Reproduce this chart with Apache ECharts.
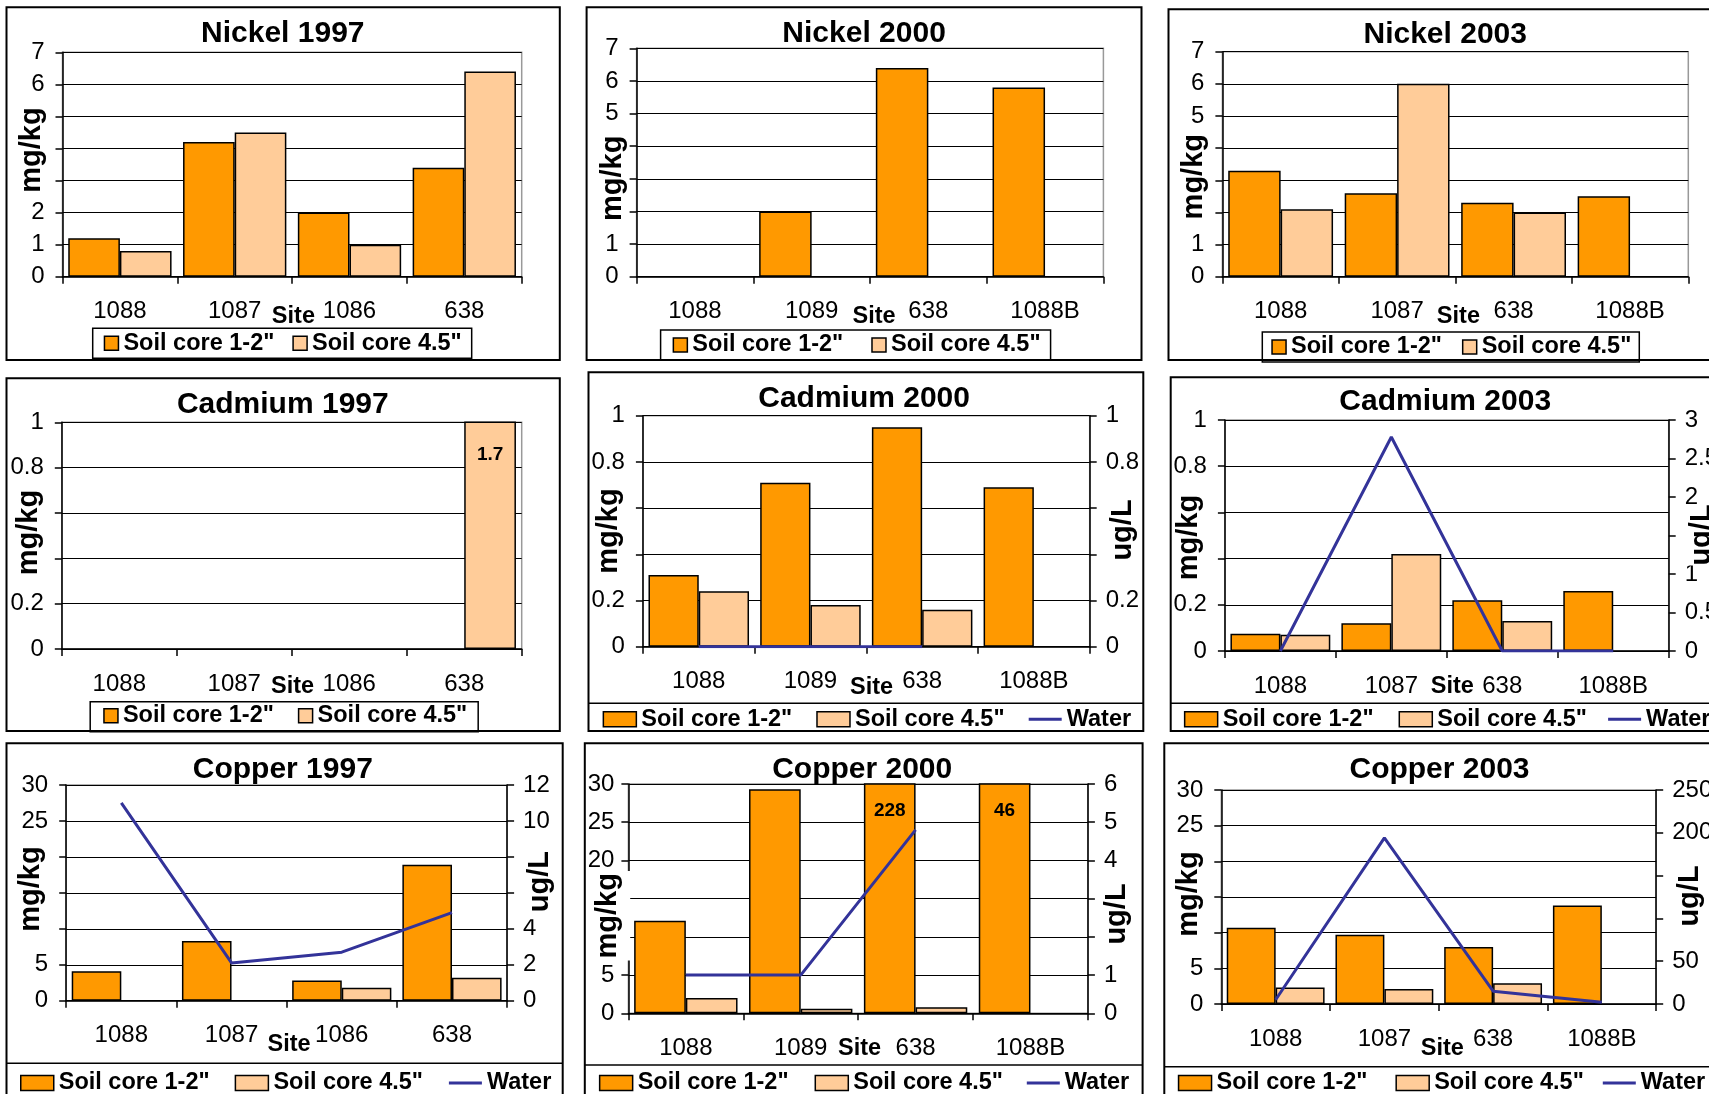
<!DOCTYPE html>
<html>
<head>
<meta charset="utf-8">
<script src="https://cdn.jsdelivr.net/npm/echarts@6/dist/echarts.min.js"></script>
<style>
html,body{margin:0;padding:0;background:#fff;overflow:hidden}
#c{width:1709px;height:1094px}
</style>
</head>
<body>
<div id="c"></div>
<script>
// ---------- categories ----------
const sites1997 = ['1088', '1087', '1086', '638'];
const sites2000 = ['1088', '1089', '638', '1088B'];
const sites2003 = ['1088', '1087', '638', '1088B'];
const seriesNames = ['Soil core 1-2"', 'Soil core 4.5"', 'Water'];

// ---------- Nickel (mg/kg) ----------
const ni1997Core12 = [1.2, 4.2, 2.0, 3.4];
const ni1997Core45 = [0.8, 4.5, 1.0, 6.4];
const ni2000Core12 = [null, 2.0, 6.4, 5.8];
const ni2000Core45 = [null, null, null, null];
const ni2003Core12 = [3.3, 2.6, 2.3, 2.5];
const ni2003Core45 = [2.1, 6.0, 2.0, null];

// ---------- Cadmium (mg/kg, water ug/L) ----------
const cd1997Core12 = [null, null, null, null];
const cd1997Core45 = [null, null, null, 1.7];
const cd2000Core12 = [0.31, 0.71, 0.95, 0.69];
const cd2000Core45 = [0.24, 0.18, 0.16, null];
const cd2000Water  = [0, 0, 0, null];
const cd2003Core12 = [0.075, 0.12, 0.22, 0.26];
const cd2003Core45 = [0.07, 0.42, 0.13, null];
const cd2003Water  = [0, 2.78, 0, 0];

// ---------- Copper (mg/kg, water ug/L) ----------
const cu1997Core12 = [4.1, 8.3, 2.8, 18.9];
const cu1997Core45 = [null, null, 1.8, 3.2];
const cu1997Water  = [11, 2.1, 2.7, 4.9];
const cu2000Core12 = [12.1, 29.3, 228, 46];
const cu2000Core45 = [2.0, 0.6, 0.8, null];
const cu2000Water  = [1.0, 1.0, 4.8, null];
const cu2003Core12 = [10.7, 9.7, 8.0, 13.8];
const cu2003Core45 = [2.3, 2.1, 2.9, null];
const cu2003Water  = [5, 194, 15, 2];

// ---------- axis scales [min, max, interval] ----------
const nickelAxis = [0, 7, 1];
const cadmiumAxis = [0, 1, 0.2];
const copperAxis = [0, 30, 5];
const cd2000WaterAxis = [0, 1, 0.2];
const cd2003WaterAxis = [0, 3, 0.5];
const cu1997WaterAxis = [0, 12, 2];
const cu2000WaterAxis = [0, 6, 1];
const cu2003WaterAxis = [0, 250, 50];

// ---------- styling ----------
const FONT = '"Liberation Sans", Arial, Helvetica, sans-serif';
const ORANGE = '#FF9900', PEACH = '#FFCC99', NAVY = '#333399';
const LINE_ICON = 'path://M0,0L34,0L34,3L0,3Z';
const TICK_FS = 24, TITLE_FS = 30, NAME_FS = 29, LEGEND_FS = 23.5;

// ---------- panel layout ----------
// yName / y2Name: [centerX, centerY, padAlong, padScreenLeft, padScreenRight]
const panels = [
  { title: 'Nickel 1997', cats: sites1997, core12: ni1997Core12, core45: ni1997Core45, left: nickelAxis,
    frame: [6.5, 7.3, 553.3, 352.7], plot: [62.5, 52.3, 521.7, 276.7], titleAt: [282.8, 33.8],
    yName: [32.7, 150, 7, 3, 2], siteAt: [293.4, 316.7],
    legend: { box: true, left: 92.7, top: 328.3, padding: [3, 10, 3, 11], gap: 18 } },
  { title: 'Nickel 2000', cats: sites2000, core12: ni2000Core12, core45: ni2000Core45, left: nickelAxis,
    frame: [586.6, 7.3, 554.9, 352.7], plot: [636.6, 48.3, 1103.4, 276.7], titleAt: [864.1, 33.3],
    yName: [614.4, 178.3, 7, 3, 0], siteAt: [874, 316.7],
    legend: { box: true, left: 660.6, top: 330, padding: [3, 10, 3, 12], gap: 28 } },
  { title: 'Nickel 2003', cats: sites2003, core12: ni2003Core12, core45: ni2003Core45, left: nickelAxis,
    frame: [1168.5, 9.3, 600, 350.7], plot: [1222.4, 51.7, 1688.3, 276.7], titleAt: [1445.2, 35],
    yName: [1194.6, 176.7, 9, 3, 2], siteAt: [1458.4, 316.7],
    legend: { box: true, left: 1262.3, top: 332, padding: [3, 8, 3, 9], gap: 20 } },
  { title: 'Cadmium 1997', cats: sites1997, core12: cd1997Core12, core45: cd1997Core45, left: cadmiumAxis,
    frame: [6.5, 378.3, 553.3, 352.7], plot: [61.8, 422.3, 521.7, 649], titleAt: [282.8, 404.3],
    yName: [34.5, 532.5, 2, 13, 2], siteAt: [292.6, 686.7], labelDist: 24,
    legend: { box: true, left: 90.2, top: 701.7, padding: [2, 11, 4, 13], gap: 24 } },
  { title: 'Cadmium 2000', cats: sites2000, core12: cd2000Core12, core45: cd2000Core45, left: cadmiumAxis,
    water: cd2000Water, right: cd2000WaterAxis,
    frame: [588.5, 372.3, 554.8, 358.7], plot: [642.9, 415.7, 1089.7, 646.7], titleAt: [864.1, 398.3],
    yName: [612.5, 531, 2, 10, 2], y2Name: [1123, 530, 8, 4, 3], siteAt: [871.5, 687.7], sep: 703.3,
    legend: { left: 602.6, top: 707.2, gap: 24, waterLeft: 1028.7 } },
  { title: 'Cadmium 2003', cats: sites2003, core12: cd2003Core12, core45: cd2003Core45, left: cadmiumAxis,
    water: cd2003Water, right: cd2003WaterAxis,
    frame: [1170.7, 377.3, 600, 353.7], plot: [1224.9, 420, 1668.7, 651], titleAt: [1445.2, 401.7],
    yName: [1191, 537.5, 2, 7, 2], y2Name: [1702.6, 535, 0, 6, 4], siteAt: [1452.3, 686.7], sep: 703.3,
    legend: { left: 1183.9, top: 707.2, gap: 25, waterLeft: 1608.1 } },
  { title: 'Copper 1997', cats: sites1997, core12: cu1997Core12, core45: cu1997Core45, left: copperAxis,
    water: cu1997Water, right: cu1997WaterAxis,
    frame: [6.5, 743.3, 556.2, 400], plot: [66.2, 785, 507.1, 1000.7], titleAt: [282.8, 770],
    yName: [30.9, 889, 12, 2, 3], y2Name: [541.6, 881.7, 7, 6, 2], siteAt: [289, 1045], sep: 1063.3,
    legend: { left: 20, top: 1071, gap: 25, waterLeft: 448.9 } },
  { title: 'Copper 2000', cats: sites2000, core12: cu2000Core12, core45: cu2000Core45, left: copperAxis,
    water: cu2000Water, right: cu2000WaterAxis, leftMargin: 14,
    frame: [584.8, 743.3, 557.8, 400], plot: [628.4, 784, 1087.9, 1013.3], titleAt: [862.2, 769.3],
    yName: [610.7, 915.8, 2, 10, 5], y2Name: [1117.5, 914, 6, 4, 2], siteAt: [859.6, 1048.3], sep: 1065, labelDist: 18,
    legend: { left: 598.9, top: 1071, gap: 26, waterLeft: 1026.8 } },
  { title: 'Copper 2003', cats: sites2003, core12: cu2003Core12, core45: cu2003Core45, left: copperAxis,
    water: cu2003Water, right: cu2003WaterAxis,
    frame: [1164.3, 743.3, 600, 400], plot: [1221.3, 790, 1656.2, 1004], titleAt: [1439.5, 770],
    yName: [1189.2, 894, 12, 2, 1], y2Name: [1697.2, 896, 6, 17, 2], siteAt: [1442.3, 1048.3], sep: 1066.7,
    legend: { left: 1177.8, top: 1071, gap: 28, waterLeft: 1602.8 } }
];

function valueAxis(gi, scale, position, grid, margin) {
  return {
    type: 'value', gridIndex: gi, position: position,
    min: scale[0], max: scale[1], interval: scale[2],
    axisLine: { show: true, onZero: false, lineStyle: { color: '#000', width: 1.5 } },
    axisTick: { show: true, inside: false, length: 7, lineStyle: { color: '#000', width: 1.5 } },
    axisLabel: { show: true, margin: margin, fontSize: TICK_FS, color: '#000', fontFamily: FONT, hideOverlap: false },
    splitLine: { show: grid, lineStyle: { color: '#000', width: 1 } },
    minorTick: { show: false }, minorSplitLine: { show: false }
  };
}

function barSeries(name, values, color, gi, yi, max, dist) {
  return {
    type: 'bar', name: name, xAxisIndex: gi, yAxisIndex: yi,
    barGap: '0%', barCategoryGap: '10%', clip: true,
    emphasis: { disabled: true },
    itemStyle: { color: color, borderColor: '#000', borderWidth: 1.5 },
    data: values.map(v => (v != null && v > max)
      ? { value: v, label: { show: true, position: 'insideTop', distance: dist, fontSize: 19,
          fontWeight: 'bold', color: '#000', fontFamily: FONT } }
      : v)
  };
}

// rotated axis title with a white box that hides the tick labels behind it.
// The padded box is centred on the anchor, so shift the anchor to keep the text at spec[0].
function axisTitle(text, spec) {
  return {
    type: 'text', x: spec[0] + (spec[4] - spec[3]) / 2, y: spec[1], rotation: Math.PI / 2, z: 100, silent: true,
    style: { text: text, fontSize: NAME_FS, fontWeight: 'bold', fontFamily: FONT, fill: '#000',
      align: 'center', verticalAlign: 'middle', backgroundColor: '#fff',
      padding: [spec[3], spec[2], spec[4], spec[2]] }
  };
}

function legendBase(L, data, left) {
  return {
    data: data, orient: 'horizontal', left: left, top: L.top,
    padding: L.padding || 0, itemGap: L.gap,
    itemWidth: L.box ? 14 : 33, itemHeight: L.box ? 14 : 15, symbolKeepAspect: true,
    borderColor: L.box ? '#000' : 'transparent', borderWidth: L.box ? 1.5 : 0, borderRadius: 0,
    backgroundColor: 'transparent', selectedMode: false,
    itemStyle: { borderColor: '#000', borderWidth: 1.5 },
    textStyle: { fontSize: LEGEND_FS, fontWeight: 'bold', color: '#000', fontFamily: FONT }
  };
}

const option = {
  animation: false, backgroundColor: '#fff',
  title: [], legend: [], grid: [], xAxis: [], yAxis: [], series: [], graphic: []
};

panels.forEach((p, i) => {
  const [l, t, r, b] = p.plot;
  option.grid.push({ left: l, top: t, width: r - l, height: b - t, show: true,
    backgroundColor: 'transparent', borderColor: '#999999', borderWidth: 1.5,
    containLabel: false, outerBoundsMode: 'none' });
  option.xAxis.push({
    type: 'category', gridIndex: i, data: p.cats, boundaryGap: true,
    axisLine: { show: true, onZero: false, lineStyle: { color: '#000', width: 1.5 } },
    axisTick: { show: true, alignWithLabel: false, interval: 0, length: 7, lineStyle: { color: '#000', width: 1.5 } },
    axisLabel: { show: true, interval: 0, margin: 23, fontSize: TICK_FS, color: '#000', fontFamily: FONT },
    splitLine: { show: false }
  });
  const yL = option.yAxis.length;
  option.yAxis.push(valueAxis(i, p.left, 'left', true, p.leftMargin || 18));
  let yR = null;
  if (p.right) {
    yR = option.yAxis.length;
    option.yAxis.push(valueAxis(i, p.right, 'right', false, 16));
  }
  option.series.push(barSeries(seriesNames[0], p.core12, ORANGE, i, yL, p.left[1], p.labelDist || 20));
  option.series.push(barSeries(seriesNames[1], p.core45, PEACH, i, yL, p.left[1], p.labelDist || 20));
  if (p.water) {
    option.series.push({ type: 'line', name: seriesNames[2], xAxisIndex: i, yAxisIndex: yR,
      data: p.water, symbol: 'none', showSymbol: false, connectNulls: false, z: 5,
      emphasis: { disabled: true },
      lineStyle: { color: NAVY, width: 3 }, itemStyle: { color: NAVY } });
  }

  // title
  option.title.push({ text: p.title, left: p.titleAt[0], top: p.titleAt[1] - TITLE_FS / 2,
    textAlign: 'center', textVerticalAlign: 'top', padding: 0, itemGap: 0,
    textStyle: { fontSize: TITLE_FS, fontWeight: 'bold', color: '#000', fontFamily: FONT } });

  // legends
  const L = p.legend;
  option.legend.push(legendBase(L, [{ name: seriesNames[0], icon: 'rect' }, { name: seriesNames[1], icon: 'rect' }], L.left));
  if (p.water) {
    option.legend.push(legendBase(L, [{ name: seriesNames[2], icon: LINE_ICON,
      itemStyle: { color: NAVY, borderWidth: 0 } }], L.waterLeft));
  }

  // axis titles
  option.graphic.push(axisTitle('mg/kg', p.yName));
  if (p.y2Name) option.graphic.push(axisTitle('ug/L', p.y2Name));
  option.graphic.push({ type: 'text', x: p.siteAt[0], y: p.siteAt[1], z: 100, silent: true,
    style: { text: 'Site', fontSize: 23.5, fontWeight: 'bold', fontFamily: FONT, fill: '#000',
      align: 'center', verticalAlign: 'middle' } });
  // frame (drawn above everything)
  option.graphic.push({ type: 'rect', z: 110, silent: true,
    shape: { x: p.frame[0], y: p.frame[1], width: p.frame[2], height: p.frame[3] },
    style: { fill: 'none', stroke: '#000', lineWidth: 2 } });
  if (p.sep) {
    option.graphic.push({ type: 'line', z: 110, silent: true,
      shape: { x1: p.frame[0], y1: p.sep, x2: p.frame[0] + p.frame[2], y2: p.sep },
      style: { stroke: '#000', lineWidth: 1.5 } });
  }
});

const chart = echarts.init(document.getElementById('c'), null, { renderer: 'canvas', width: 1709, height: 1094 });
chart.setOption(option);
</script>
</body>
</html>
